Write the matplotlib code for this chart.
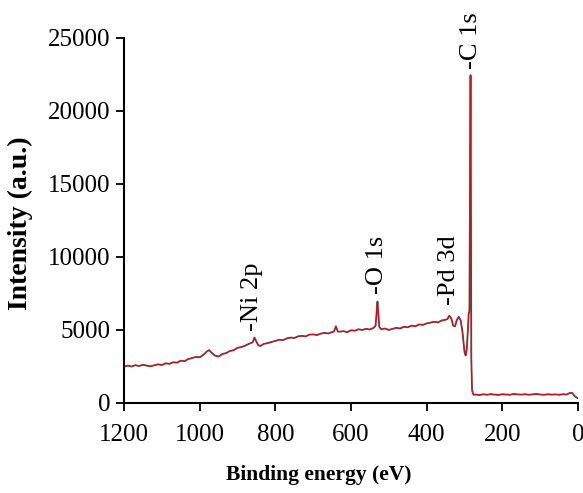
import numpy as np
import matplotlib.pyplot as plt

# Survey spectrum (binding energy eV, intensity a.u.)
BindingEnergy = [1200, 1190, 1180, 1170, 1160, 1150, 1140, 1130, 1120, 1110,
                 1100, 1090, 1080, 1070, 1060, 1050, 1040, 1030, 1020, 1010,
                 1000, 990, 980, 975, 970, 960, 950, 940, 930, 920,
                 910, 900, 890, 880, 870, 860, 855, 850, 845, 840,
                 830, 820, 810, 800, 790, 780, 770, 760, 750, 740,
                 730, 720, 710, 700, 690, 680, 670, 660, 650, 645,
                 640, 635, 630, 620, 610, 600, 590, 580, 570, 560,
                 550, 540, 535, 532, 530, 528, 525, 520, 510, 500,
                 490, 480, 470, 460, 450, 440, 430, 420, 410, 400,
                 390, 380, 370, 360, 350, 345, 340, 335, 330, 325,
                 320, 315, 310, 305, 300, 297, 294, 291, 289, 287,
                 285, 284, 283, 282, 280, 278, 275, 270, 260, 250,
                 240, 230, 220, 210, 200, 190, 180, 170, 160, 150,
                 140, 130, 120, 110, 100, 90, 80, 70, 60, 50,
                 40, 30, 20, 15, 10, 5, 0]
Intensity = [2480, 2560, 2500, 2590, 2530, 2620, 2560, 2510, 2580, 2650,
             2600, 2720, 2680, 2790, 2760, 2900, 2860, 3010, 3080, 3150,
             3130, 3300, 3550, 3620, 3480, 3250, 3180, 3350, 3420, 3560,
             3620, 3780, 3830, 3920, 4050, 4150, 4480, 4200, 3950, 3900,
             4050, 4100, 4180, 4250, 4330, 4300, 4420, 4480, 4450, 4560,
             4600, 4560, 4680, 4700, 4650, 4750, 4800, 4760, 4850, 4900,
             5250, 4900, 4880, 4920, 4850, 4980, 4950, 5050, 5000, 5080,
             5030, 5150, 5300, 6300, 6950, 6200, 5200, 5050, 5100, 5000,
             5080, 5150, 5100, 5220, 5180, 5300, 5250, 5380, 5350, 5450,
             5500, 5560, 5520, 5650, 5700, 5750, 5980, 5800, 5300, 5250,
             5700, 5900, 5650, 4800, 3500, 3250, 3700, 5000, 6100, 6300,
             18000, 22450, 14000, 3000, 900, 650, 560, 580, 540, 600,
             560, 610, 570, 550, 600, 580, 560, 620, 590, 570,
             600, 560, 590, 620, 580, 560, 600, 570, 590, 560,
             600, 580, 700, 680, 500, 400, 320]

PeakLabels = ['-Ni 2p', '-O 1s', '-Pd 3d', '-C 1s']
PeakEnergy = [862, 530, 341, 284]
PeakLabelY = [4950, 7450, 6700, 22900]

YTicks = [0, 5000, 10000, 15000, 20000, 25000]
XTicks = [1200, 1000, 800, 600, 400, 200, 0]

plt.rcParams['font.family'] = ['Liberation Serif', 'DejaVu Serif']

fig = plt.figure(figsize=(5.83, 4.93), dpi=100)
ax = fig.add_axes([0.2127, 0.1826, 0.7787, 0.7404])

ax.plot(BindingEnergy, Intensity, color='#7a3c3c', linewidth=1.3)
ax.plot(BindingEnergy, Intensity, color='#d0101e', linewidth=0.6)

for label, be, y in zip(PeakLabels, PeakEnergy, PeakLabelY):
    ax.text(be, y, label, rotation=90, ha='center', va='bottom',
            fontsize=19, clip_on=False)

ax.set_xlim(1200, 0)
ax.set_ylim(0, 25000)
ax.set_xticks(XTicks)
ax.set_yticks(YTicks)
ax.tick_params(direction='out', length=6, width=1.3, labelsize=18)
ax.tick_params(axis='x', pad=9)
ax.tick_params(axis='y', pad=4)

for side in ['top', 'right']:
    ax.spines[side].set_visible(False)
for side in ['left', 'bottom']:
    ax.spines[side].set_linewidth(1.5)

ax.set_xlabel('Binding energy (eV)', fontsize=15.5, fontweight='bold')
ax.set_ylabel('Intensity (a.u.)', fontsize=20, fontweight='bold')
ax.xaxis.set_label_coords(0.43, -0.17)
ax.yaxis.set_label_coords(-0.20, 0.493)

fig.savefig('out.png', dpi=100)
